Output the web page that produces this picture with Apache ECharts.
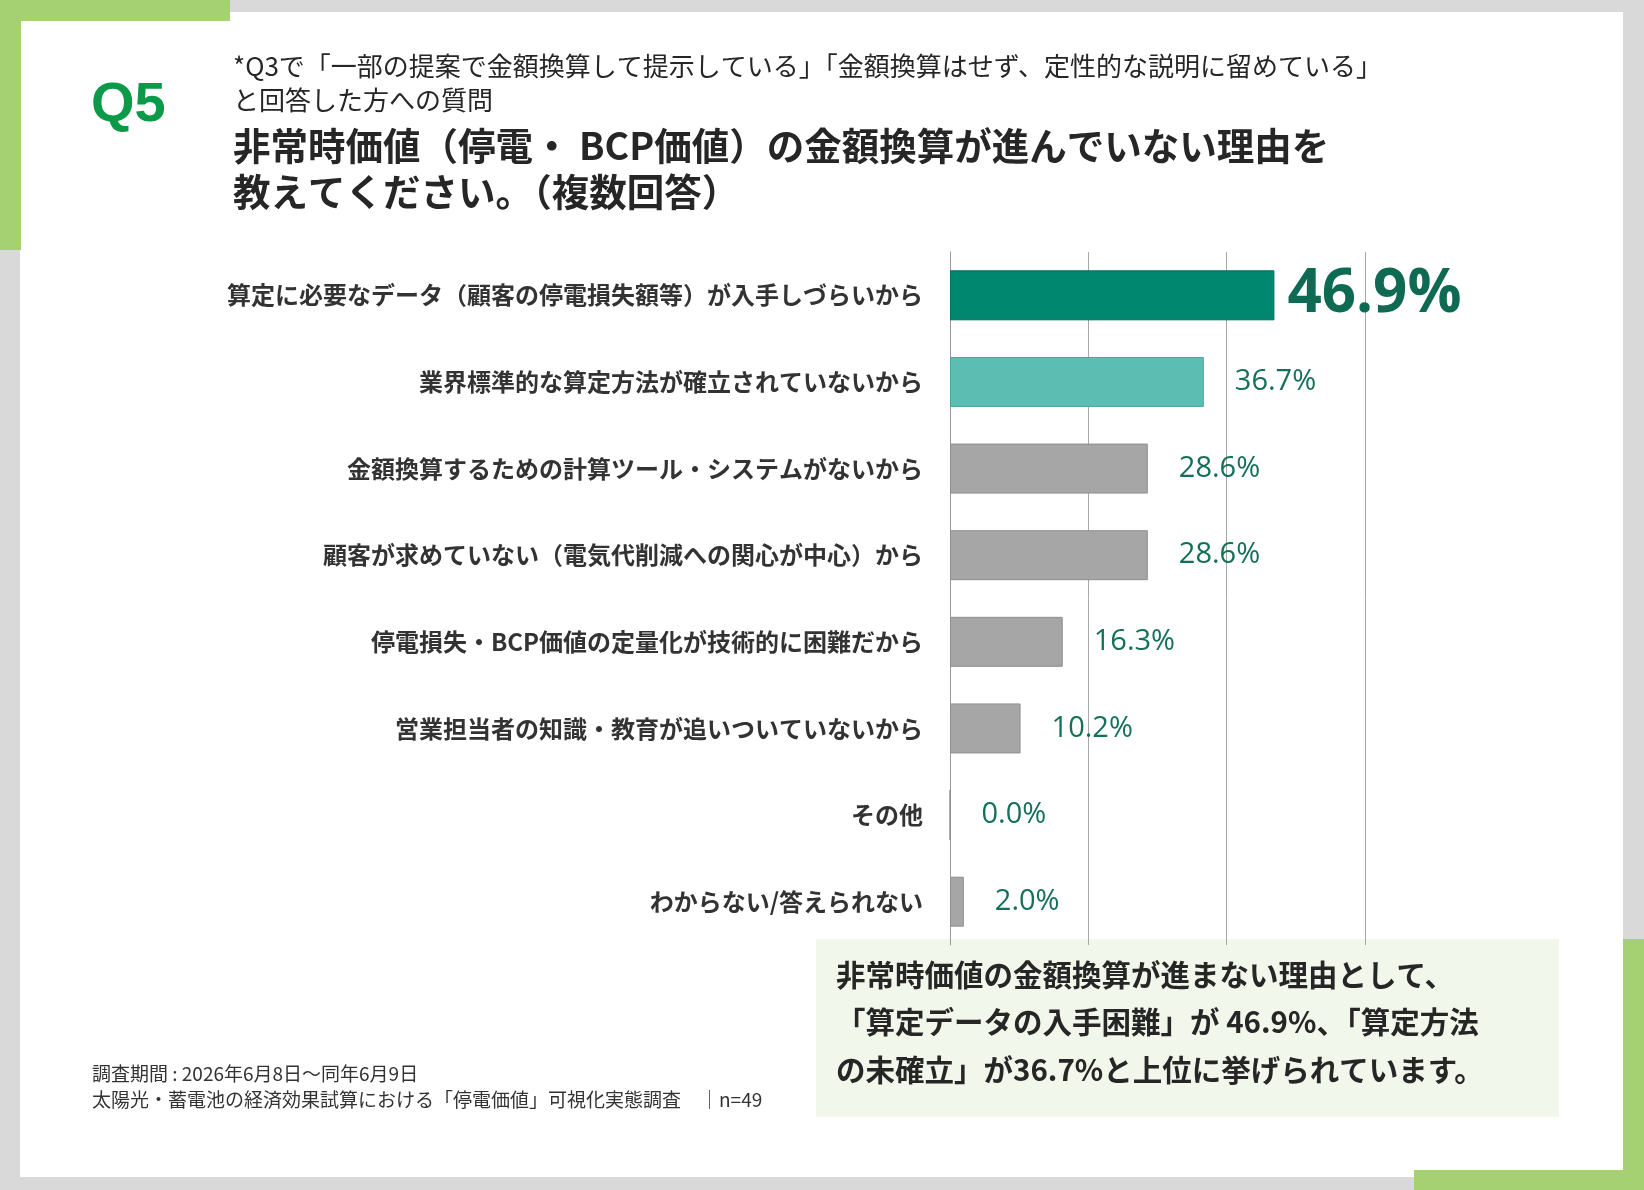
<!DOCTYPE html>
<html>
<head>
<meta charset="utf-8">
<script src="https://cdn.jsdelivr.net/npm/echarts@6/dist/echarts.min.js"></script>
<style>
html,body{margin:0;padding:0;background:#d9d9d9;}
#chart{width:1644px;height:1190px;}
</style>
</head>
<body>
<div id="chart"></div>
<script>
const categories = [
  '算定に必要なデータ（顧客の停電損失額等）が入手しづらいから',
  '業界標準的な算定方法が確立されていないから',
  '金額換算するための計算ツール・システムがないから',
  '顧客が求めていない（電気代削減への関心が中心）から',
  '停電損失・BCP価値の定量化が技術的に困難だから',
  '営業担当者の知識・教育が追いついていないから',
  'その他',
  'わからない/答えられない'
];
const values = [46.9, 36.7, 28.6, 28.6, 16.3, 10.2, 0.0, 2.0];
const axisTicks = [0, 20, 40, 60];

const questionLabel = 'Q5';
const noteLines = [
  '*Q3で「一部の提案で金額換算して提示している」「金額換算はせず、定性的な説明に留めている」',
  'と回答した方への質問'
];
const titleLines = [
  '非常時価値（停電・ BCP価値）の金額換算が進んでいない理由を',
  '教えてください。（複数回答）'
];
const summaryLines = [
  '非常時価値の金額換算が進まない理由として、',
  '「算定データの入手困難」が 46.9%、「算定方法',
  'の未確立」が36.7%と上位に挙げられています。'
];
const footerLines = [
  '調査期間 : 2026年6月8日～同年6月9日',
  '太陽光・蓄電池の経済効果試算における「停電価値」可視化実態調査　│n=49'
];

const barColors = ['#00876f', '#5cbdb2', '#a6a6a6', '#a6a6a6', '#a6a6a6', '#a6a6a6', '#a6a6a6', '#a6a6a6'];
const barBorders = ['#006e5a', '#49a699', '#8f8f8f', '#8f8f8f', '#8f8f8f', '#8f8f8f', '#8f8f8f', '#8f8f8f'];

const chart = echarts.init(document.getElementById('chart'), null, {renderer: 'canvas'});

const jpFont = '"Noto Sans CJK JP", "Noto Sans", sans-serif';

const seriesData = values.map((v, i) => {
  const item = {
    value: v,
    itemStyle: {color: barColors[i], borderColor: barBorders[i], borderWidth: 1}
  };
  if (i === 0) {
    item.label = {distance: 13, fontSize: 60, fontWeight: 'bold', color: '#0f6a53'};
  }
  return item;
});

const graphics = [
  {type: 'rect', z: -10, shape: {x: 20, y: 12, width: 1603, height: 1165}, style: {fill: '#ffffff'}},
  {type: 'rect', z: -9, shape: {x: 0, y: 0, width: 230, height: 21}, style: {fill: '#a5d172'}},
  {type: 'rect', z: -9, shape: {x: 0, y: 0, width: 21, height: 250}, style: {fill: '#a5d172'}},
  {type: 'rect', z: -9, shape: {x: 1623, y: 939, width: 21, height: 251}, style: {fill: '#a5d172'}},
  {type: 'rect', z: -9, shape: {x: 1414, y: 1170, width: 230, height: 20}, style: {fill: '#a5d172'}},
  {type: 'rect', z: -8, shape: {x: 816, y: 939, width: 743, height: 178}, style: {fill: '#f1f7eb'}},
  {type: 'text', left: 91, top: 78, style: {text: questionLabel, font: 'bold 56px "Liberation Sans", Arial, sans-serif', fill: '#0a9a48'}}
];
noteLines.forEach((t, i) => {
  graphics.push({type: 'text', left: 233, top: 53 + i * 34, style: {text: t, font: '26px ' + jpFont, fill: '#262626'}});
});
titleLines.forEach((t, i) => {
  graphics.push({type: 'text', left: 233, top: 127 + i * 46, style: {text: t, font: 'bold 37.5px ' + jpFont, fill: '#262626'}});
});
summaryLines.forEach((t, i) => {
  graphics.push({type: 'text', left: 836, top: 960 + i * 47.5, style: {text: t, font: 'bold 29.5px ' + jpFont, fill: '#262626'}});
});
footerLines.forEach((t, i) => {
  graphics.push({type: 'text', left: 92, top: 1064 + i * 26, style: {text: t, font: '19px ' + jpFont, fill: '#333333'}});
});

chart.setOption({
  animation: false,
  backgroundColor: 'transparent',
  graphic: graphics,
  grid: {left: 950, right: 279, top: 252, bottom: 245, containLabel: false},
  xAxis: {
    type: 'value',
    min: axisTicks[0],
    max: axisTicks[axisTicks.length - 1],
    interval: axisTicks[1] - axisTicks[0],
    axisLabel: {show: false},
    axisLine: {show: false},
    axisTick: {show: false},
    splitLine: {show: true, lineStyle: {color: '#a8a8a8', width: 1}}
  },
  yAxis: {
    type: 'category',
    inverse: true,
    data: categories,
    axisLine: {show: true, lineStyle: {color: '#9a9a9a', width: 1}},
    axisTick: {show: false},
    axisLabel: {
      margin: 27,
      fontFamily: jpFont,
      fontSize: 24,
      fontWeight: 'bold',
      color: '#333333'
    }
  },
  series: [{
    type: 'bar',
    data: seriesData,
    barWidth: 50,
    label: {
      show: true,
      position: 'right',
      distance: 31,
      fontFamily: '"Open Sans", sans-serif',
      fontSize: 29,
      color: '#14705a',
      formatter: p => p.value.toFixed(1) + '%'
    }
  }]
});
</script>
</body>
</html>
